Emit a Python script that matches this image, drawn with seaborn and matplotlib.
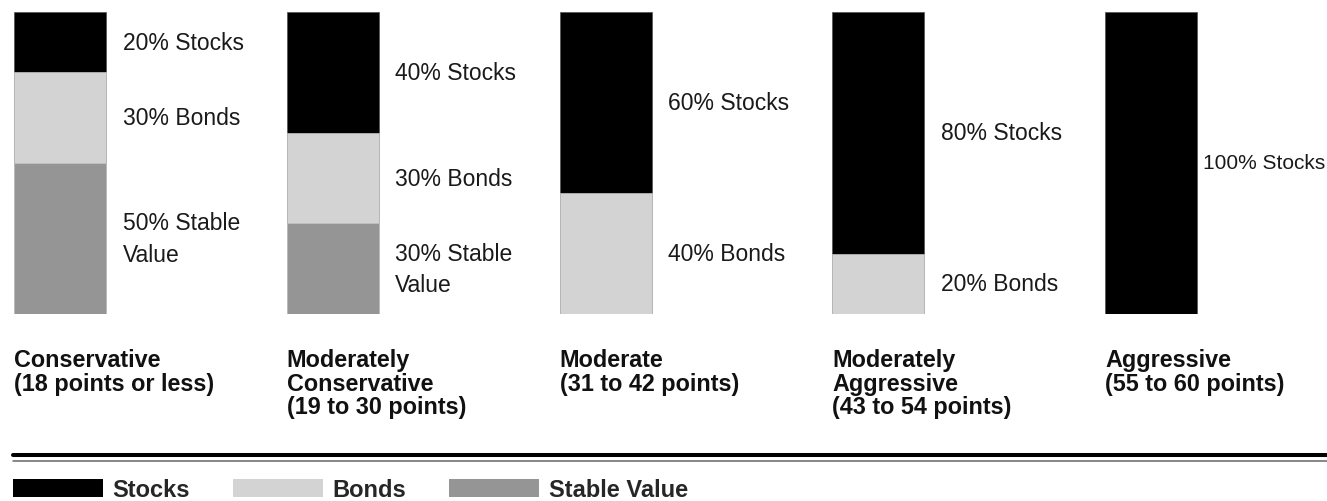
import matplotlib
matplotlib.use("Agg")
import matplotlib.pyplot as plt
import seaborn as sns
import pandas as pd
from matplotlib.patches import Patch
from matplotlib.lines import Line2D
from matplotlib.transforms import blended_transform_factory

# ---- data ----
profiles = ["Conservative", "Moderately Conservative", "Moderate",
            "Moderately Aggressive", "Aggressive"]
titles = ["Conservative\n(18 points or less)",
          "Moderately\nConservative\n(19 to 30 points)",
          "Moderate\n(31 to 42 points)",
          "Moderately\nAggressive\n(43 to 54 points)",
          "Aggressive\n(55 to 60 points)"]
stocks = [20, 40, 60, 80, 100]
bonds = [30, 30, 40, 20, 0]
stable = [50, 30, 0, 0, 0]
assets = ["Stocks", "Bonds", "Stable Value"]
label_names = ["Stocks", "Bonds", "Stable\nValue"]
colors = ["#000000", "#d3d3d3", "#959595"]

sns.set_theme(style="white")
plt.rcParams["font.family"] = ["Liberation Sans", "DejaVu Sans"]

W, H = 1327, 502
fig = plt.figure(figsize=(W / 100, H / 100), dpi=100)
fig.patch.set_facecolor("white")
ax = fig.add_axes([0, 187 / H, 1, 302 / H])

df = pd.DataFrame({"profile": profiles, "Stocks": stocks, "Bonds": bonds,
                   "Stable Value": stable})
df["top"] = df["Stocks"] + df["Bonds"] + df["Stable Value"]
df["mid"] = df["Bonds"] + df["Stable Value"]
df["low"] = df["Stable Value"]

step = 273.0
bw = 92 / step
for col, c in zip(["top", "mid", "low"], colors):
    sns.barplot(data=df, x="profile", y=col, color=c, width=bw, ax=ax,
                order=profiles, saturation=1, linewidth=0.5,
                edgecolor="#c4c4c4" if c != "#000000" else "#505050")

ax.set_xlim(-60 / step, 4 + 176 / step)
ax.set_ylim(0, 100)
ax.axis("off")

# segment labels
for i in range(len(profiles)):
    segs = [(stocks[i], stable[i] + bonds[i] + stocks[i] / 2, label_names[0]),
            (bonds[i], stable[i] + bonds[i] / 2, label_names[1]),
            (stable[i], stable[i] / 2, label_names[2])]
    for v, yc, name in segs:
        if v <= 0:
            continue
        full = v == 100
        ax.annotate(f"{v}% {name}", xy=(i + bw / 2, yc),
                    xytext=(4 if full else 12, 0), textcoords="offset points",
                    ha="left", va="center", fontsize=15 if full else 16.5,
                    color="#1a1a1a", linespacing=1.45)

# category titles
trans = blended_transform_factory(ax.transData, fig.transFigure)
for i, t in enumerate(titles):
    ax.text(i - bw / 2, (H - 349) / H, t, transform=trans, ha="left",
            va="top", fontsize=16.8, fontweight="bold", color="#111111",
            linespacing=1.03)

# double rule
fig.add_artist(Line2D([13 / W, 1], [(H - 456) / H] * 2, transform=fig.transFigure,
                      color="#000000", lw=2.9))
fig.add_artist(Line2D([13 / W, 1], [(H - 461.5) / H] * 2, transform=fig.transFigure,
                      color="#666666", lw=1.1))

# legend
handles = [Patch(facecolor=c, edgecolor="none", label=a) for a, c in zip(assets, colors)]
fig.legend(handles=handles, loc="center left", bbox_to_anchor=(13 / W, 11.5 / H),
           ncol=3, frameon=False, prop=dict(weight="bold", size=17),
           handlelength=3.8, handleheight=0.8, handletextpad=0.42,
           columnspacing=1.82, borderpad=0, borderaxespad=0)

fig.savefig("out.png", dpi=100, facecolor="white")
